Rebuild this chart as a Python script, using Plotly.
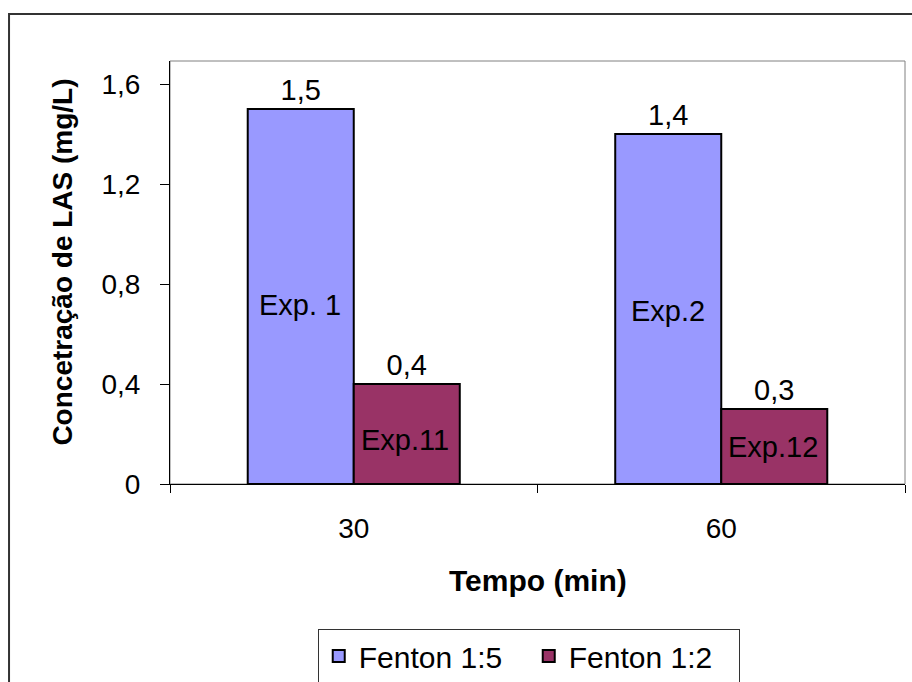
import plotly.graph_objects as go

# Tempo (min) categories and LAS concentrations (mg/L)
tempo = ["30", "60"]
fenton_1_5 = [1.5, 1.4]
fenton_1_2 = [0.4, 0.3]
exp_1_5 = ["Exp. 1", "Exp.2"]
exp_1_2 = ["Exp.11", "Exp.12"]
y_ticks = [0, 0.4, 0.8, 1.2, 1.6]
y_tick_text = ["0", "0,4", "0,8", "1,2", "1,6"]

FONT = "Liberation Sans, Arial, sans-serif"
BLUE = "#9999FF"
MAROON = "#993366"


def fmt(v):
    return f"{v:.1f}".replace(".", ",")


fig = go.Figure()
fig.add_trace(go.Bar(
    name="Fenton 1:5", x=tempo, y=fenton_1_5,
    marker=dict(color=BLUE, line=dict(color="black", width=2)),
    text=[fmt(v) for v in fenton_1_5], textposition="outside",
    textfont=dict(size=29, color="black", family=FONT), cliponaxis=False,
))
fig.add_trace(go.Bar(
    name="Fenton 1:2", x=tempo, y=fenton_1_2,
    marker=dict(color=MAROON, line=dict(color="black", width=2)),
    text=[fmt(v) for v in fenton_1_2], textposition="outside",
    textfont=dict(size=29, color="black", family=FONT), cliponaxis=False,
))

annotations = []
# experiment labels inside the bars (x offset of each trace within its group)
for vals, labels, offset, shifts in [(fenton_1_5, exp_1_5, -0.145, (-8, -2)),
                                     (fenton_1_2, exp_1_2, 0.14, (-6, 0))]:
    for i, (v, lab) in enumerate(zip(vals, labels)):
        annotations.append(dict(
            x=i + offset, y=v / 2, xref="x", yref="y", text=lab,
            showarrow=False, yshift=shifts[i],
            xanchor="center", yanchor="middle",
            font=dict(size=29, color="black", family=FONT),
        ))

# axis titles
annotations.append(dict(
    x=-0.146, y=0.525, xref="paper", yref="paper", textangle=-90,
    xanchor="center", yanchor="middle",
    text="<b>Concetração de LAS (mg/L)</b>", showarrow=False,
    font=dict(size=28, color="black", family=FONT),
))
annotations.append(dict(
    x=0.5, y=-0.229, xref="paper", yref="paper",
    xanchor="center", yanchor="middle",
    text="<b>Tempo (min)</b>", showarrow=False,
    font=dict(size=30, color="black", family=FONT),
))

shapes = [
    # plot area frame
    dict(type="rect", xref="paper", yref="paper", x0=0, y0=0, x1=1, y1=1,
         line=dict(color="#808080", width=1), layer="below"),
    # outer chart frame
    dict(type="rect", xref="paper", yref="paper",
         x0=-0.219, y0=-0.49, x1=1.014, y1=1.111,
         line=dict(color="#333333", width=2)),
]

fig.update_layout(
    width=912, height=682,
    margin=dict(l=170, r=7, t=61, b=198, autoexpand=False),
    paper_bgcolor="white", plot_bgcolor="white",
    font=dict(family=FONT, size=28, color="black"),
    separators=",.",
    barmode="group", bargap=0.423, bargroupgap=0,
    showlegend=True,
    legend=dict(
        orientation="h", x=0.201, y=-0.343, xanchor="left", yanchor="top",
        bordercolor="#333333", borderwidth=1,
        font=dict(size=30, family=FONT, color="black"),
        traceorder="normal", entrywidth=165, itemwidth=30,
    ),
    xaxis=dict(
        type="category", showline=True, linecolor="black", linewidth=1,
        ticks="outside", tickson="boundaries", ticklen=8, tickcolor="black",
        ticklabelstandoff=19, tickfont=dict(size=28), automargin=False,
        showgrid=False, zeroline=False,
    ),
    yaxis=dict(
        range=[0, 1.692], tickvals=y_ticks, ticktext=y_tick_text,
        showline=True, linecolor="black", linewidth=1,
        ticks="outside", ticklen=9, tickcolor="black",
        ticklabelstandoff=14, tickfont=dict(size=28), automargin=False,
        showgrid=False, zeroline=False,
    ),
    annotations=annotations,
    shapes=shapes,
)

fig.write_html("out.html")
